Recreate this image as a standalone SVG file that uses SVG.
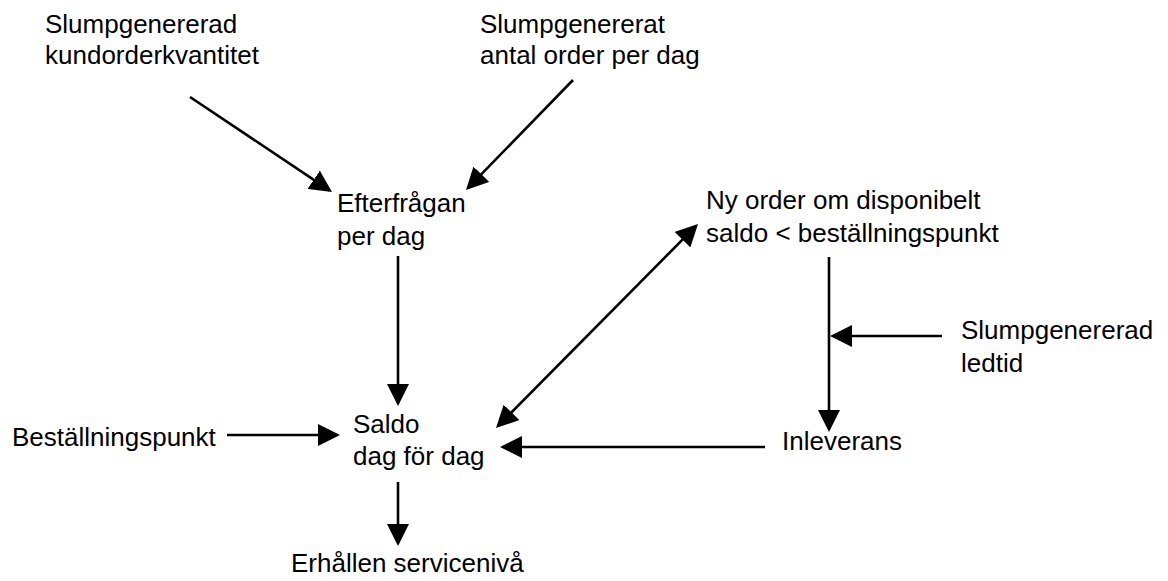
<svg xmlns="http://www.w3.org/2000/svg" width="1168" height="581" viewBox="0 0 1168 581">
<style>
text{font-family:"Liberation Sans",Arial,sans-serif;font-size:26px;fill:#000}
.c line{stroke:#000;stroke-width:2.6;fill:none}
</style>
<defs>
<marker id="ah" markerUnits="userSpaceOnUse" markerWidth="22" markerHeight="22" refX="19" refY="11" orient="auto-start-reverse">
<path d="M0,0 L22,11 L0,22 z" fill="#000"/>
</marker>
</defs>
<rect width="1168" height="581" fill="#fff"/>
<g class="c" id="connectors">
<line x1="190" y1="97" x2="329.5" y2="190.3" marker-end="url(#ah)"/>
<line x1="573" y1="80" x2="468.1" y2="187.8" marker-end="url(#ah)"/>
<line x1="398" y1="256" x2="398" y2="403" marker-end="url(#ah)"/>
<line x1="227" y1="435" x2="337" y2="435" marker-end="url(#ah)"/>
<line x1="398" y1="482" x2="398" y2="543" marker-end="url(#ah)"/>
<line x1="498.1" y1="425.9" x2="695.9" y2="226.1" marker-start="url(#ah)" marker-end="url(#ah)"/>
<line x1="829" y1="257" x2="829" y2="429" marker-end="url(#ah)"/>
<line x1="942" y1="336" x2="833" y2="336" marker-end="url(#ah)"/>
<line x1="765" y1="447" x2="503" y2="447" marker-end="url(#ah)"/>
</g>
<g id="n-kundorder"><text x="45" y="33">Slumpgenererad</text><text x="45" y="64">kundorderkvantitet</text></g>
<g id="n-antalorder"><text x="480" y="33">Slumpgenererat</text><text x="480" y="64">antal order per dag</text></g>
<g id="n-efterfragan"><text x="337" y="212">Efterfrågan</text><text x="337" y="245">per dag</text></g>
<g id="n-nyorder"><text x="706" y="209">Ny order om disponibelt</text><text x="706" y="242">saldo &lt; beställningspunkt</text></g>
<g id="n-saldo"><text x="353" y="433">Saldo</text><text x="353" y="465">dag för dag</text></g>
<g id="n-bestpunkt"><text x="12" y="446">Beställningspunkt</text></g>
<g id="n-service"><text x="291" y="572">Erhållen servicenivå</text></g>
<g id="n-ledtid"><text x="961" y="339">Slumpgenererad</text><text x="961" y="372">ledtid</text></g>
<g id="n-inleverans"><text x="782" y="450">Inleverans</text></g>
</svg>
